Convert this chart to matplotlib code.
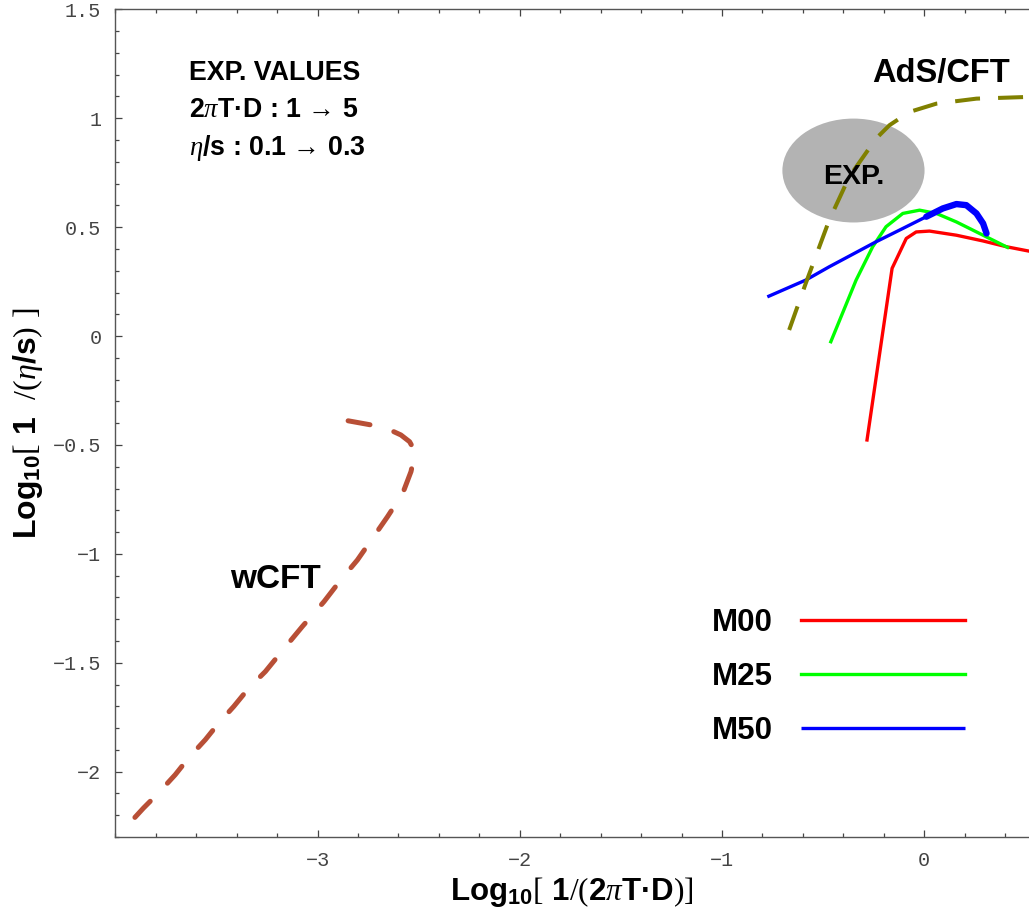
import matplotlib
matplotlib.use("Agg")
import matplotlib.pyplot as plt
from matplotlib.patches import Ellipse
from matplotlib.ticker import MultipleLocator, FixedLocator, FuncFormatter

# ---------------- data ----------------
m00_x = [-0.283, -0.159, -0.089, -0.040, 0.026, 0.159, 0.289, 0.407, 0.518]
m00_y = [-0.477, 0.311, 0.448, 0.478, 0.482, 0.463, 0.437, 0.410, 0.390]

m25_x = [-0.462, -0.337, -0.255, -0.189, -0.106, -0.023, 0.060, 0.159, 0.291, 0.412]
m25_y = [-0.026, 0.257, 0.410, 0.502, 0.563, 0.578, 0.563, 0.524, 0.463, 0.407]

m50_x = [-0.776, -0.586, -0.470, -0.371, -0.238, -0.106, 0.010, 0.092, 0.159, 0.208, 0.258, 0.291, 0.308]
m50_y = [0.180, 0.257, 0.318, 0.367, 0.433, 0.494, 0.548, 0.586, 0.606, 0.601, 0.563, 0.517, 0.471]

ads_x = [-0.668, -0.586, -0.470, -0.371, -0.238, -0.172, -0.073, 0.060, 0.258, 0.518]
ads_y = [0.028, 0.242, 0.532, 0.731, 0.907, 0.968, 1.029, 1.067, 1.090, 1.098]

wcft_x = [-2.849, -2.670, -2.588, -2.545, -2.524, -2.526, -2.538, -2.579, -2.654, -2.728, -2.803,
          -2.885, -2.968, -3.075, -3.150, -3.258, -3.340, -3.414, -3.489, -3.555, -3.638,
          -3.704, -3.787, -3.861, -3.944]
wcft_y = [-0.389, -0.419, -0.454, -0.485, -0.520, -0.570, -0.622, -0.722, -0.829, -0.928, -1.028,
          -1.119, -1.219, -1.333, -1.417, -1.540, -1.616, -1.700, -1.777, -1.853, -1.937,
          -2.014, -2.098, -2.167, -2.251]

exp_center = (-0.350, 0.760)
exp_width = 0.703
exp_height = 0.477

series_names = ["M00", "M25", "M50"]
series_colors = ["#ff0000", "#00ff00", "#0000ff"]

x_major_ticks = [-3, -2, -1, 0]

# ---------------- style ----------------
plt.rcParams['lines.scale_dashes'] = False
plt.rcParams['mathtext.fontset'] = 'custom'
plt.rcParams['mathtext.rm'] = 'Liberation Serif'
plt.rcParams['mathtext.it'] = 'Liberation Serif:italic'
plt.rcParams['mathtext.bf'] = 'Liberation Sans:bold'
plt.rcParams['axes.unicode_minus'] = True

fig = plt.figure(figsize=(10.29, 9.16), dpi=100)
ax = fig.add_axes([0.1121, 0.0862, 0.8879, 0.9036])

ax.set_xlim(-4.0, 0.518)
ax.set_ylim(-2.3, 1.5)

# ellipse
ax.add_patch(Ellipse(exp_center, exp_width, exp_height, facecolor="#b3b3b3",
                     edgecolor="none", zorder=1))

ax.plot(m00_x, m00_y, color=series_colors[0], lw=2.4, zorder=3, label=series_names[0])
ax.plot(m25_x, m25_y, color=series_colors[1], lw=2.4, zorder=4, label=series_names[1])
ax.plot(m50_x[:7], m50_y[:7], color=series_colors[2], lw=2.4, zorder=5,
        solid_capstyle='butt', label=series_names[2])
ax.plot(m50_x[6:], m50_y[6:], color=series_colors[2], lw=4.6, zorder=5,
        solid_capstyle='round', solid_joinstyle='round')

l_ads, = ax.plot(ads_x, ads_y, color="#808000", lw=2.9, zorder=6)
l_ads.set_dashes((18, 13))
l_ads.set_dash_capstyle('butt')

l_w, = ax.plot(wcft_x, wcft_y, color="#b84f36", lw=3.6, zorder=6)
l_w.set_dashes((16, 18))
l_w.set_dash_capstyle('round')

# texts
bold = dict(family=['Liberation Sans', 'DejaVu Sans'], fontweight='bold', color='black')
ax.text(-3.638, 1.174, "EXP. VALUES", fontsize=19.3, va='baseline', ha='left', **bold)
ax.text(-3.638, 1.005, "2$\\pi$T·D : 1 → 5", fontsize=19.3, va='baseline', ha='left', **bold)
ax.text(-3.638, 0.830, "$\\eta$/s : 0.1 → 0.3", fontsize=19.3, va='baseline', ha='left', **bold)
ax.text(-0.255, 1.166, "AdS/CFT", fontsize=23.5, va='baseline', ha='left', **bold)
ax.text(-3.432, -1.156, "wCFT", fontsize=24, va='baseline', ha='left', **bold)
ax.text(-0.351, 0.700, "EXP.", fontsize=20.5, va='baseline', ha='center', zorder=7, **bold)

# legend (labels first, then lines)
leg = ax.legend(loc='center left', bbox_to_anchor=(0.6531, 0.1934), frameon=False,
                markerfirst=False, handlelength=5.25, handletextpad=0.9,
                labelspacing=0.77, borderpad=0, borderaxespad=0,
                prop=dict(family='Liberation Sans', weight='bold', size=22.5))

# axis labels
ax.set_xlabel("Log$_{\\mathbf{10}}$$[$ 1$/($2$\\pi$T·D$)]$", fontsize=22.5,
              labelpad=4, **bold)
ax.set_ylabel("Log$_{\\mathbf{10}}$$[$ 1  $/($$\\eta$/s$)$ $]$", fontsize=23,
              labelpad=6, **bold)

# spines & ticks
for s in ['left', 'bottom', 'top']:
    ax.spines[s].set_color('#555555')
    ax.spines[s].set_linewidth(1.0)
ax.spines['right'].set_visible(False)

ax.xaxis.set_major_locator(FixedLocator(x_major_ticks))
ax.xaxis.set_minor_locator(MultipleLocator(0.2))
ax.yaxis.set_major_locator(MultipleLocator(0.5))
ax.yaxis.set_minor_locator(MultipleLocator(0.1))
ax.xaxis.set_major_formatter(FuncFormatter(lambda v, p: ("%g" % v).replace('-', '\u2212')))
ax.yaxis.set_major_formatter(FuncFormatter(lambda v, p: ("%g" % v).replace('-', '\u2212')))

ax.tick_params(which='both', direction='in', top=True, right=False, color='#444444')
ax.tick_params(which='major', length=5, width=0.9)
ax.tick_params(which='minor', length=3, width=0.9)
ax.tick_params(axis='x', which='major', pad=10, labelsize=14.5, labelcolor='#444444')
ax.tick_params(axis='y', which='major', pad=10, labelsize=14.5, labelcolor='#444444')
for lab in ax.get_xticklabels() + ax.get_yticklabels():
    lab.set_family(['Liberation Mono', 'DejaVu Sans Mono'])

fig.savefig("out.png", dpi=100)
